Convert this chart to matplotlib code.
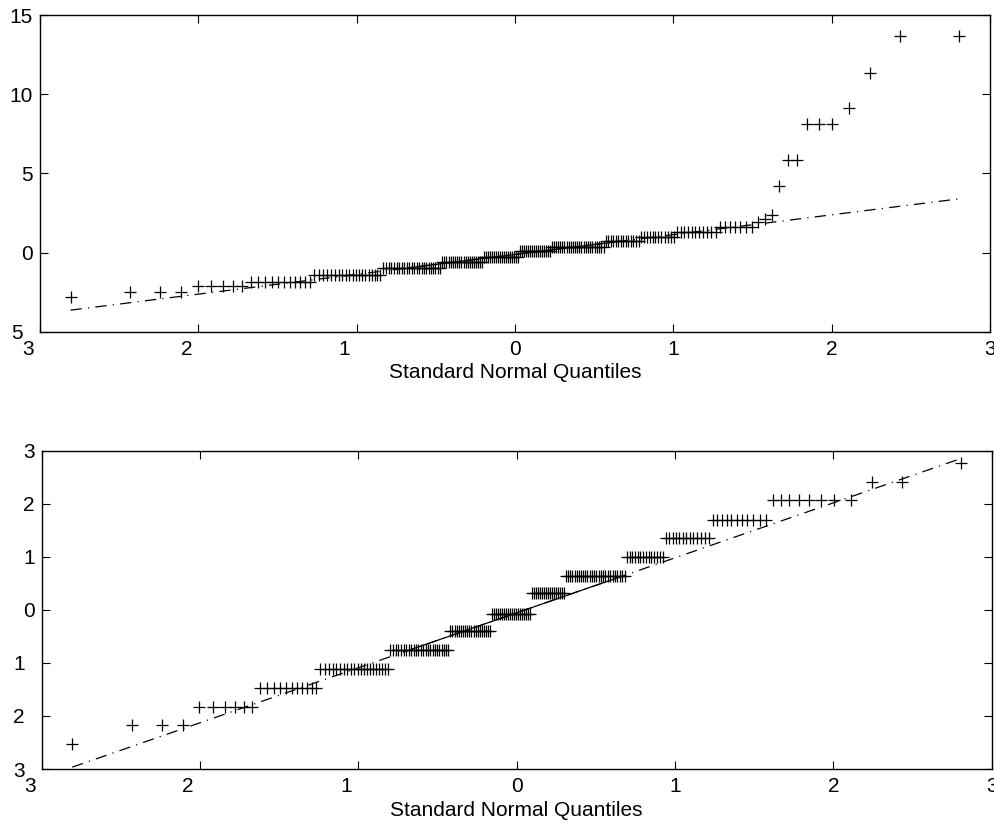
import numpy as np
import matplotlib
matplotlib.use("Agg")
import matplotlib.pyplot as plt
from matplotlib.transforms import ScaledTranslation
from statistics import NormalDist

plt.rcParams['font.family'] = ['Liberation Sans', 'DejaVu Sans']

# sorted samples, written as (value level, number of points at that level)
top_levels = [-2.8, -2.47, -2.12, -1.84, -1.42, -0.96, -0.6, -0.3, 0.1, 0.37,
              0.72, 1.0, 1.31, 1.63, 1.9, 2.1, 2.35, 4.2, 5.84, 8.1, 9.1,
              11.35, 13.68]
top_counts = [1, 3, 5, 11, 20, 24, 20, 18, 16, 25,
              14, 12, 11, 7, 1, 1, 1, 1, 2, 3, 1,
              1, 2]

bottom_levels = [-2.52, -2.17, -1.83, -1.48, -1.12, -0.75, -0.39, -0.07,
                 0.31, 0.64, 1.0, 1.35, 1.69, 2.07, 2.41, 2.77]
bottom_counts = [1, 3, 6, 11, 21, 25, 20, 20,
                 17, 27, 14, 13, 11, 8, 2, 1]

# tick labels as printed (the minus signs did not survive in the original)
x_ticks = [-3, -2, -1, 0, 1, 2, 3]
x_tick_labels = ["3", "2", "1", "0", "1", "2", "3"]
top_y_ticks = [-5, 0, 5, 10, 15]
top_y_tick_labels = ["5", "0", "5", "10", "15"]
bottom_y_ticks = [-3, -2, -1, 0, 1, 2, 3]
bottom_y_tick_labels = ["3", "2", "1", "0", "1", "2", "3"]

fig = plt.figure(figsize=(9.95, 8.24), dpi=100)
ax_top = fig.add_axes([0.0402, 0.5974, 0.9548, 0.3843])
ax_bot = fig.add_axes([0.0419, 0.0667, 0.9548, 0.3863])


def qq_panel(ax, levels, counts, ylim, yticks, ylabels):
    y = np.repeat(levels, counts)
    n = len(y)
    nd = NormalDist()
    x = np.array([nd.inv_cdf((i - 0.5) / n) for i in range(1, n + 1)])

    # reference line through the quartiles, extended to the extremes
    qx = np.percentile(x, [25, 75])
    qy = np.percentile(y, [25, 75])
    slope = (qy[1] - qy[0]) / (qx[1] - qx[0])
    ends = np.array([x[0], x[-1]])
    ax.plot(ends, qy[0] + slope * (ends - qx[0]), color='k', lw=0.9,
            ls=(0, (9, 5, 1, 5)))
    ax.plot(qx, qy, color='k', lw=0.9)
    ax.plot(x, y, '+', color='k', ms=9, mew=0.9)

    ax.set_xlim(-3, 3)
    ax.set_ylim(*ylim)
    ax.set_xticks(x_ticks)
    ax.set_xticklabels(x_tick_labels)
    ax.set_yticks(yticks)
    ax.set_yticklabels(ylabels)
    ax.tick_params(direction='in', top=True, right=True, length=6,
                   width=0.8, labelsize=15)
    ax.tick_params(axis='x', pad=6)
    ax.tick_params(axis='y', pad=5)
    for s in ax.spines.values():
        s.set_linewidth(1.0)
    ax.set_xlabel("Standard Normal Quantiles", fontsize=15, labelpad=3)

    # negative labels sit left of the tick, as if the minus were still there
    shift_x = ScaledTranslation(-0.12, 0, fig.dpi_scale_trans)
    shift_y = ScaledTranslation(-0.10, 0, fig.dpi_scale_trans)
    for lab, v in zip(ax.get_xticklabels(), x_ticks):
        if v < 0:
            lab.set_transform(lab.get_transform() + shift_x)
    for lab, v in zip(ax.get_yticklabels(), yticks):
        if v < 0:
            lab.set_transform(lab.get_transform() + shift_y)


qq_panel(ax_top, top_levels, top_counts, (-5, 15), top_y_ticks, top_y_tick_labels)
qq_panel(ax_bot, bottom_levels, bottom_counts, (-3, 3), bottom_y_ticks, bottom_y_tick_labels)

fig.savefig("out.png", dpi=100)
